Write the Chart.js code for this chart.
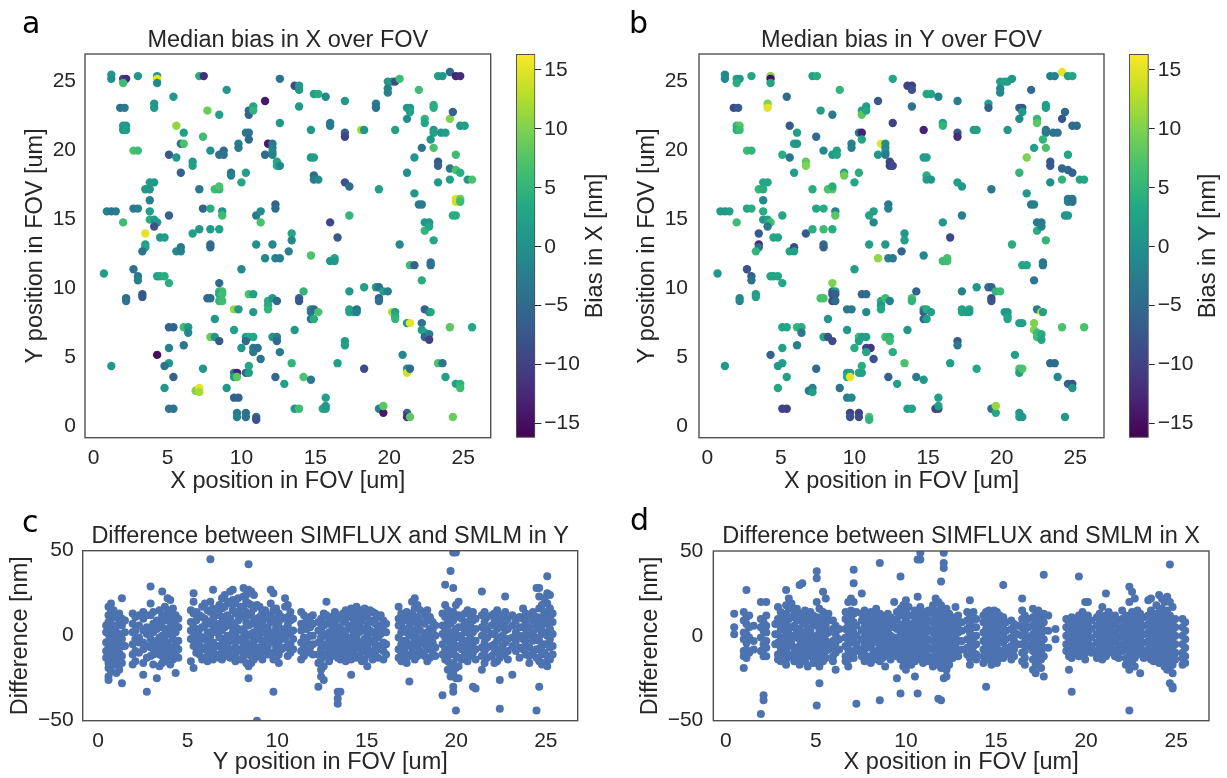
<!DOCTYPE html>
<html>
<head>
<meta charset="utf-8">
<script src="https://cdn.jsdelivr.net/npm/chart.js@4.4.1/dist/chart.umd.min.js"></script>
<style>
  body { margin: 0; background: #fff; }
  #fig { position: relative; width: 1227px; height: 778px; overflow: hidden; background: #fff; }
  #fig canvas { position: absolute; }
</style>
</head>
<body>
<div id="fig">
  <canvas id="panelA" style="left:0px;top:0px" width="500" height="500"></canvas>
  <canvas id="cbarA" style="left:500px;top:0px" width="114" height="500"></canvas>
  <canvas id="panelB" style="left:614px;top:0px" width="500" height="500"></canvas>
  <canvas id="cbarB" style="left:1114px;top:0px" width="113" height="500"></canvas>
  <canvas id="panelC" style="left:0px;top:500px" width="600" height="278"></canvas>
  <canvas id="panelD" style="left:614px;top:500px" width="613" height="278"></canvas>
</div>
<script>
// ---- data ----

// site positions in the field of view (um), same sites in panels a and b
const siteX = [
  1.2, 1.2, 2.0, 2.2, 2.0, 3.0, 4.3, 4.3, 4.3, 7.15,
  7.45, 12.6, 13.6, 13.9, 13.9, 9.0, 5.4, 11.6, 14.9, 15.2,
  15.7, 19.9, 20.2, 20.4, 20.7, 19.9, 19.9, 22.0, 23.3, 23.6,
  24.1, 24.5, 24.8, 1.8, 2.1, 4.1, 4.1, 7.7, 8.5, 10.5,
  10.5, 10.8, 10.8, 13.9, 17.0, 19.1, 19.1, 21.2, 21.4, 21.4,
  23.0, 23.0, 24.1, 24.3, 21.2, 22.4, 22.4, 2.0, 2.2, 2.0,
  2.2, 5.6, 6.1, 7.4, 16.0, 16.0, 17.0, 17.0, 18.1, 18.3,
  14.7, 12.6, 10.3, 10.5, 10.5, 20.4, 23.0, 23.0, 23.5, 23.8,
  24.8, 25.1, 22.8, 2.7, 3.0, 5.9, 6.1, 5.1, 5.6, 5.9,
  6.7, 6.7, 7.9, 8.5, 8.8, 8.8, 9.8, 9.8, 9.3, 9.3,
  10.3, 10.0, 11.6, 11.8, 12.1, 12.1, 12.1, 12.1, 12.4, 12.4,
  12.6, 14.7, 14.9, 14.9, 14.9, 15.2, 21.7, 22.2, 23.0, 24.5,
  23.3, 23.3, 24.1, 24.5, 24.8, 21.2, 25.3, 25.6, 24.1, 23.3,
  17.0, 17.3, 19.3, 21.7, 22.0, 22.2, 24.5, 24.5, 24.8, 24.8,
  24.3, 24.5, 3.8, 4.1, 3.5, 3.8, 3.8, 7.15, 8.2, 8.5,
  8.5, 7.4, 7.9, 8.7, 8.7, 0.9, 1.2, 1.5, 2.0, 2.7,
  3.0, 3.8, 3.8, 4.1, 4.3, 4.1, 3.5, 4.5, 4.8, 3.5,
  3.5, 3.3, 5.1, 5.6, 5.9, 5.9, 6.7, 7.15, 7.9, 8.5,
  7.9, 7.9, 11.0, 11.3, 11.3, 12.3, 12.3, 11.0, 12.1, 11.6,
  12.3, 12.6, 13.2, 13.4, 13.4, 16.0, 16.5, 17.3, 14.7, 16.0,
  16.3, 16.3, 20.7, 22.4, 22.7, 22.4, 22.7, 23.0, 21.4, 21.7,
  22.8, 22.8, 22.2, 0.7, 2.7, 3.0, 3.0, 4.3, 4.5, 4.8,
  5.1, 2.2, 2.2, 3.3, 3.3, 10.0, 8.5, 8.5, 8.7, 8.5,
  8.7, 8.5, 8.7, 7.7, 7.9, 10.5, 10.8, 9.5, 9.8, 10.8,
  11.8, 11.8, 11.8, 12.1, 12.4, 13.9, 13.9, 14.2, 14.7, 14.7,
  14.7, 14.9, 14.9, 15.2, 17.3, 17.3, 17.3, 17.6, 17.8, 17.8,
  18.3, 19.1, 19.3, 19.3, 19.3, 19.6, 19.9, 20.2, 20.4, 20.4,
  20.4, 21.2, 21.4, 22.2, 22.2, 22.4, 22.4, 22.7, 22.7, 22.4,
  22.7, 22.8, 24.1, 25.6, 5.1, 5.4, 6.1, 6.4, 6.4, 7.9,
  8.2, 8.5, 8.2, 9.5, 10.3, 10.5, 10.8, 10.3, 10.0, 10.8,
  11.1, 10.8, 11.3, 12.1, 12.4, 12.4, 12.6, 13.6, 17.0, 17.0,
  6.1, 5.1, 4.3, 5.1, 4.8, 5.4, 1.2, 4.8, 7.4, 6.9,
  7.15, 7.15, 9.0, 9.5, 9.7, 9.5, 9.7, 10.3, 10.5, 10.5,
  12.3, 12.9, 13.4, 14.2, 14.7, 16.5, 18.3, 20.9, 21.2, 21.2,
  21.4, 23.3, 23.6, 23.8, 24.5, 24.8, 24.8, 9.5, 9.8, 5.1,
  5.4, 9.7, 9.7, 10.3, 10.3, 11.0, 11.0, 13.6, 13.9, 15.5,
  15.7, 15.7, 15.7, 19.3, 19.6, 19.6, 21.2, 21.2, 21.4, 24.3
];
const siteY = [
  25.5, 25.2, 25.2, 25.2, 24.9, 25.4, 25.4, 25.2, 24.9, 25.4,
  25.4, 25.2, 24.7, 24.7, 24.4, 24.4, 23.9, 23.6, 24.1, 24.1,
  23.9, 25.0, 25.0, 25.0, 25.2, 24.5, 24.2, 24.4, 25.4, 25.4,
  25.7, 25.4, 25.4, 23.1, 23.1, 23.4, 23.1, 22.9, 22.6, 22.9,
  22.6, 23.2, 22.9, 23.2, 23.6, 23.4, 23.1, 23.1, 23.1, 22.8,
  23.3, 23.1, 22.3, 22.8, 22.3, 22.3, 22.0, 21.8, 21.8, 21.5,
  21.5, 21.8, 21.3, 21.0, 22.0, 21.8, 21.3, 21.0, 21.5, 21.5,
  21.5, 22.0, 21.3, 21.3, 20.8, 21.5, 21.5, 21.3, 21.3, 21.3,
  21.8, 21.8, 20.8, 20.0, 20.0, 20.5, 20.5, 19.7, 19.5, 18.4,
  19.2, 18.9, 20.0, 19.7, 20.0, 19.7, 20.5, 20.2, 18.4, 18.2,
  18.4, 17.7, 19.7, 20.5, 20.5, 20.2, 19.9, 19.7, 19.2, 18.9,
  18.9, 19.5, 19.5, 18.2, 17.9, 17.9, 19.5, 20.2, 20.2, 19.7,
  19.2, 18.9, 18.7, 18.6, 18.4, 18.4, 17.9, 17.9, 17.9, 17.7,
  17.7, 17.4, 17.2, 16.9, 16.1, 16.1, 16.5, 16.3, 16.5, 16.3,
  15.3, 15.3, 17.7, 17.7, 17.2, 17.2, 16.4, 17.2, 17.2, 17.2,
  17.4, 15.8, 15.8, 15.6, 15.3, 15.6, 15.6, 15.6, 14.8, 15.8,
  15.8, 15.6, 15.0, 15.0, 14.8, 14.5, 14.0, 13.7, 13.7, 13.2,
  13.0, 12.7, 15.3, 12.7, 13.0, 12.7, 14.0, 14.3, 14.3, 14.3,
  13.2, 13.0, 15.3, 15.6, 14.8, 16.1, 15.8, 13.2, 13.2, 12.2,
  12.2, 12.2, 12.7, 14.0, 13.5, 14.8, 13.7, 15.3, 12.4, 12.0,
  12.2, 12.0, 13.2, 14.8, 14.8, 14.2, 14.5, 13.5, 11.7, 11.7,
  11.9, 11.7, 10.6, 11.1, 11.4, 10.9, 10.6, 10.9, 10.9, 10.9,
  10.4, 9.3, 9.1, 9.6, 9.4, 11.4, 10.4, 9.8, 9.8, 9.6,
  9.6, 9.1, 9.1, 9.3, 9.3, 9.6, 9.6, 8.5, 8.5, 8.3,
  9.1, 8.8, 8.5, 9.3, 9.1, 9.3, 9.1, 9.8, 8.5, 8.3,
  7.8, 8.5, 7.8, 8.3, 9.8, 8.5, 8.3, 8.3, 8.5, 8.3,
  10.1, 10.1, 10.1, 9.3, 9.1, 9.8, 9.8, 8.3, 8.3, 8.0,
  7.8, 7.5, 7.5, 7.5, 7.0, 6.8, 6.5, 6.7, 6.3, 8.5,
  8.3, 8.3, 7.2, 7.2, 7.2, 7.2, 7.2, 7.2, 6.8, 6.5,
  6.5, 6.2, 7.8, 7.0, 6.5, 6.5, 6.5, 6.2, 5.7, 5.7,
  5.7, 5.4, 4.9, 6.5, 6.5, 6.2, 5.4, 7.0, 6.2, 5.9,
  5.9, 5.7, 5.2, 4.6, 4.4, 3.6, 4.4, 2.8, 4.2, 2.6,
  2.8, 2.5, 2.8, 3.9, 3.9, 3.6, 3.6, 3.9, 3.9, 4.4,
  3.6, 3.1, 4.6, 3.6, 3.4, 4.6, 4.2, 5.2, 4.2, 3.9,
  4.2, 4.6, 4.6, 3.6, 3.1, 3.1, 2.8, 2.1, 2.1, 1.3,
  1.3, 1.0, 0.7, 1.0, 0.7, 0.7, 0.5, 1.3, 1.3, 1.3,
  1.3, 2.1, 1.5, 1.3, 1.0, 1.5, 1.0, 0.7, 0.7, 0.7
];
// median bias per site (nm)
const biasX = [
  1, 0, -10, -12, 6, 1, 1, 15, -1, 4,
  -12, -4, -9, 1, 1, 1, 1, -14, 2, 4,
  -1, 1, 2, -9, 6, -2, -2, 6, 2, 1,
  -5, -13, -12, -4, -3, 1, 1, 9, 2, -5,
  -6, 3, 5, 1, 1, -3, -4, 1, 1, 2,
  4, 4, 10, -6, 0, 5, 3, 1, 1, 1,
  2, 11, 2, 6, -3, -3, -6, -10, 12, 1,
  1, 1, -3, -4, -5, 2, 1, 2, 1, 2,
  1, 2, 1, 7, 6, -4, 7, -7, 1, -6,
  1, 2, 0, -4, -5, -4, -2, -3, -4, -2,
  2, 3, -5, -14, -3, -2, -1, -2, 3, 4,
  -1, 1, 2, -5, -3, -1, 1, -4, 7, 6,
  -7, -6, -3, 7, 4, 0, 1, 7, 2, 1,
  -8, -5, 2, 1, -3, -3, 15, 14, 9, 6,
  4, 4, 2, 1, 1, 1, -2, -3, 6, 5,
  7, -6, 4, 1, 6, -2, -3, -3, 6, -3,
  -2, 2, 4, 1, 1, -8, 15, 1, 2, 2,
  3, -4, -6, -1, -3, -2, 2, 1, 1, 2,
  -5, -5, -3, 0, 7, -6, -5, 0, -1, -1,
  -2, -2, -2, 3, -1, -9, -7, 5, 7, 1,
  3, 1, -1, 1, 1, 5, 3, 3, 6, -6,
  -4, -4, 4, 2, -4, -3, -2, 2, 3, 4,
  4, -5, -4, -7, -7, -1, -5, 5, 6, 4,
  6, 5, 6, -5, -5, 7, 2, 11, 1, 1,
  4, 4, 5, 1, -5, -6, -7, 5, 1, -3,
  -3, -5, 4, 7, 1, 3, 3, 2, -4, -2,
  2, 1, -4, -6, -4, 2, -2, 12, 2, 4,
  5, 1, 15, -4, 1, 3, -6, -2, -10, -6,
  -4, 3, 8, 3, -6, -6, 6, 1, -1, 9,
  1, -7, 1, 2, 1, 4, 3, -5, 1, -3,
  -4, -3, -4, 1, -2, -5, -3, 1, 2, 2,
  -3, -2, -15, 1, -4, -6, 1, 1, 1, 10,
  15, 12, 1, -2, -13, 1, 8, -6, 2, 3,
  -5, 2, 5, 7, -3, 2, -9, -1, 1, 14,
  -5, 7, -3, 2, 2, 5, 6, -6, -6, -3,
  -4, -3, -2, -4, -4, -5, -8, 1, 6, 3,
  2, 2, 1, -2, -14, 8, -6, -12, 8, 9
];
const biasY = [
  -1, -1, 2, 1, 4, 3, 10, -15, 3, 2,
  4, 3, -10, -10, -8, 5, -5, -7, 3, 3,
  -2, 2, 2, 2, 1, -1, -1, -5, -2, -2,
  15, 2, 3, -9, -7, 10, 15, 2, -3, 2,
  8, 2, 3, -4, -2, 2, -6, -6, -7, 1,
  2, 2, -8, -5, -1, 5, 8, 5, 8, 4,
  6, -7, 2, -5, 2, 5, -7, -12, 2, 2,
  -13, -10, -3, -13, 3, 1, -3, -3, -4, -4,
  -5, -5, 5, 6, 5, 1, 1, 4, -4, 2,
  8, 10, -1, 1, 2, 3, -2, -2, 2, 9,
  4, 3, 1, 15, 0, -1, 0, -3, -9, -10,
  -9, 2, 2, 4, 2, 1, 10, 2, 7, 3,
  -7, -7, -5, -5, -6, 5, 3, 3, 5, 0,
  2, 1, -3, 1, -3, -2, -3, -2, -3, -4,
  1, 1, 3, 3, 5, 4, -1, 4, 7, 8,
  4, 3, 4, -2, 8, 1, 1, 2, 6, 3,
  4, 4, 1, 2, 6, -3, -7, 3, 3, -13,
  -4, 5, 3, 2, -9, 2, -7, 4, 6, 4,
  -5, -6, 3, 2, -1, -3, -2, 2, 1, 11,
  -2, -3, -6, 1, 2, 1, -9, -2, -1, 6,
  7, 6, 4, -3, -3, 4, -2, 5, 3, 3,
  -3, -3, -3, 1, -8, -6, -4, 3, 3, 3,
  3, -1, -1, 1, 2, 2, 10, -5, 1, -8,
  -6, -9, -5, 7, 7, -5, -5, -3, -3, -1,
  4, 1, 3, 6, -2, 7, 5, -6, 2, -6,
  -6, 4, 2, 2, -2, 2, 3, 2, 3, 2,
  1, -4, -6, -9, -8, 5, 6, 1, 1, 2,
  3, 2, 2, 10, 10, 6, 6, 4, 3, -2,
  15, 2, 7, 7, 3, 3, 5, 4, -3, 3,
  -8, -9, 1, 1, 6, 2, 2, 2, 4, -10,
  -11, 3, -8, 6, 5, 6, 4, 1, -7, -3,
  -2, 2, -6, 2, 1, 2, 1, 3, -5, -3,
  -2, 2, -4, 2, 2, 3, 15, 3, 2, 4,
  -6, 2, 7, -3, 1, 2, 3, 2, 7, 2,
  7, -5, -5, -1, -6, -8, 1, -2, -1, -10,
  -10, -10, -8, -10, -9, 7, 5, 2, 3, -10,
  -9, 2, 2, -4, 3, 11, 1, 2, 1, 1
];

// per-localization difference (nm), grouped in columns by position (um)
const diffYCols = [
  [0.45, [2, -4, -9, -13, 6]],
  [0.58, [12, 8, 1, -3, -7, -11, -16, -19, -24, 17, -26]],
  [0.72, [19, 14, 7, 4, -1, -5, -9, -12, -18, -21]],
  [0.86, [15, 11, 3, 0, -6, -10, -15, -17]],
  [1.02, [11, 6, 2, -4, -8, -13, -17, -22]],
  [1.18, [13, 9, 1, -3, -10, -14, -20]],
  [1.33, [22, 10, 6, -2, -6, -12, -16, -28]],
  [1.5, [9, 2, -6]],
  [1.93, [13, 7, 2, -5, -11, -17]],
  [2.08, [11, 3, -2, -9, -15]],
  [2.28, [12, 6, -1, -4, -10]],
  [2.52, [14, 10, 3, -4, -8, -16, -23]],
  [2.72, [12, 5, 1, -6, -13, -33]],
  [2.93, [29, 19, 12, 3, -2, -7, -12]],
  [3.08, [14, 7, 2, -4, -11, -17]],
  [3.28, [9, 4, -3, -8, -25]],
  [3.43, [15, 9, 5, -1, -7, -11, -18]],
  [3.58, [26, 12, 8, 0, -4, -12, -16]],
  [3.73, [17, 11, 4, -3, -8, -13]],
  [3.88, [22, 15, 9, 1, -4, -9, -15]],
  [4.03, [21, 12, 5, 1, -7, -12, -17]],
  [4.18, [16, 8, 3, -2, -9, -14]],
  [4.33, [12, 6, 2, -5, -10, -22]],
  [4.48, [10, 5, -3, -8, -13]],
  [5.18, [15, 8, 3, -2, -15]],
  [5.33, [25, 20, 13, 5, 1, -6, -19]],
  [5.48, [14, 9, 2, -3, -10]],
  [5.66, [12, 4, 0, -6, -11]],
  [5.81, [17, 11, 5, -2, -7, -14]],
  [5.96, [19, 10, 6, -1, -8, -13]],
  [6.11, [15, 8, 2, -4, -9, -15]],
  [6.27, [45, 20, 14, 7, 0, -5, -12]],
  [6.42, [27, 16, 10, 3, -4, -9, -14]],
  [6.6, [14, 7, 2, -6, -11]],
  [6.77, [18, 12, 4, -1, -6, -13]],
  [6.92, [22, 16, 8, 3, -2, -9, -14]],
  [7.07, [24, 17, 11, 5, -3, -7, -12]],
  [7.22, [20, 12, 7, 0, -5, -10]],
  [7.37, [26, 19, 10, 6, -1, -8, -13]],
  [7.52, [27, 21, 15, 7, 2, -3, -10]],
  [7.67, [19, 13, 5, 0, -7, -12, -15]],
  [7.82, [22, 14, 9, 4, -3, -8]],
  [7.97, [17, 11, 3, -2, -9, -14]],
  [8.12, [28, 23, 17, 12, 4, -1, -6, -12]],
  [8.27, [24, 20, 14, 8, 1, -4, -10, -16]],
  [8.4, [42, 27, 19, 12, 6, 0, -6, -11, -18, -25]],
  [8.55, [26, 18, 13, 7, 1, -7, -12, -16]],
  [8.7, [24, 16, 9, 2, -3, -8, -14]],
  [8.87, [18, 10, 6, -2, -7, -12, -50]],
  [9.02, [17, 11, 3, -1, -9, -12]],
  [9.17, [14, 7, 2, -5, -10, -14]],
  [9.32, [15, 10, 4, -3, -8]],
  [9.47, [12, 5, 0, -7, -11]],
  [9.64, [27, 19, 12, 8, 1, -4, -11]],
  [9.79, [25, 15, 10, 2, -3, -10, -14, -33]],
  [9.94, [16, 9, 5, -2, -7, -13]],
  [10.09, [13, 8, 1, -4, -11, -16]],
  [10.24, [11, 4, -1, -8]],
  [10.44, [22, 17, 10, 3, -2, -7]],
  [10.59, [18, 11, 6, 1, -6, -12]],
  [10.74, [14, 9, 2, -5, -10]],
  [10.89, [10, 3, -2, -8]],
  [11.34, [14, 7, 3, -4, -9, -14]],
  [11.49, [12, 6, -1, -6, -12]],
  [11.64, [9, 4, -3, -10]],
  [11.84, [11, 5, 0, -7]],
  [11.99, [12, 7, 0, -5, -11]],
  [12.3, [8, 3, -4, -11, -16, -30]],
  [12.45, [10, 4, -1, -8, -14, -20, -24]],
  [12.6, [13, 6, 1, -5, -12, -18, -26]],
  [12.75, [20, 12, 7, 0, -6, -11]],
  [12.9, [9, 2, -3, -9, -15]],
  [13.05, [11, 6, -1, -7, -12]],
  [13.22, [14, 8, 3, -4, -10]],
  [13.38, [12, 5, 0, -6, -13, -33, -37, -40]],
  [13.53, [10, 4, -2, -9, -14, -33]],
  [13.68, [13, 8, 1, -5, -11]],
  [13.83, [15, 10, 3, -2, -9, -15]],
  [13.98, [12, 6, -1, -6, -12]],
  [14.13, [16, 11, 4, -3, -8, -14, -23]],
  [14.28, [14, 8, 1, -4, -10]],
  [14.43, [17, 10, 5, -1, -7, -13]],
  [14.58, [13, 6, 2, -5, -12]],
  [14.73, [15, 9, 3, -4, -9, -15]],
  [14.88, [16, 11, 4, -2, -7, -14]],
  [15.03, [12, 6, 0, -6, -11, -18]],
  [15.18, [15, 8, 3, -3, -10]],
  [15.33, [14, 9, 2, -4, -9, -14]],
  [15.48, [13, 7, 0, -5, -11]],
  [15.63, [11, 4, -1, -8, -13]],
  [15.78, [12, 6, 1, -6]],
  [15.93, [9, 3, -4, -9, -14]],
  [16.08, [7, 2, -5, -11]],
  [16.78, [17, 10, 6, -1, -8, -13]],
  [16.93, [13, 7, 2, -5, -10, -15]],
  [17.08, [10, 4, -3, -8, -14]],
  [17.23, [14, 9, 2, -4, -11, -16]],
  [17.38, [12, 5, 0, -6, -12, -27]],
  [17.53, [20, 13, 8, 1, -5, -10]],
  [17.68, [22, 16, 10, 3, -2, -9, -14]],
  [17.83, [18, 11, 6, -1, -6, -12]],
  [17.98, [15, 8, 3, -3, -9]],
  [18.23, [12, 7, 0, -5, -12]],
  [18.38, [15, 9, 2, -3, -8, -15]],
  [18.53, [11, 4, -1, -7, -13]],
  [18.68, [8, 3, -4, -10]],
  [18.83, [6, 0, -7, -12]],
  [19.23, [13, 6, 1, -5, -11, -35]],
  [19.38, [30, 18, 11, 4, -1, -8, -14]],
  [19.53, [15, 8, 3, -3, -10, -15, -20]],
  [19.68, [38, 12, 7, 0, -6, -11, -18, -24]],
  [19.83, [49, 28, 14, 9, 2, -4, -9, -16, -22, -30, -33]],
  [19.98, [49, 18, 11, 4, -1, -7, -12, -19, -25, -44]],
  [20.13, [20, 12, 5, 0, -6, -13, -18, -25]],
  [20.3, [10, 5, -2, -8, -14]],
  [20.48, [13, 7, 2, -5, -11]],
  [20.63, [15, 8, 3, -3, -9, -15]],
  [20.78, [12, 6, -1, -6, -12]],
  [20.93, [14, 9, 2, -4, -10, -30]],
  [21.08, [10, 4, -3, -8, -14, -31]],
  [21.43, [26, 12, 5, 0, -7, -12, -20]],
  [21.58, [14, 8, 3, -4, -9, -16]],
  [21.73, [11, 4, -1, -7, -13]],
  [21.98, [12, 6, 1, -6, -12]],
  [22.13, [13, 8, 1, -5, -10, -16]],
  [22.28, [15, 9, 4, -3, -9, -15]],
  [22.43, [11, 5, -1, -8, -13, -26, -43]],
  [22.58, [12, 7, 0, -6, -11]],
  [22.73, [23, 14, 8, 3, -4, -10]],
  [22.88, [10, 4, -2, -9, -14]],
  [23.13, [12, 6, -1, -6, -23]],
  [23.33, [9, 2, -3, -9]],
  [23.53, [11, 5, 0, -7, -13]],
  [23.73, [16, 10, 5, -2, -8]],
  [23.88, [13, 8, 1, -4, -11]],
  [24.08, [12, 5, 0, -7, -12, -16]],
  [24.28, [14, 9, 2, -3, -10]],
  [24.48, [28, 11, 6, -1, -8, -13, -44]],
  [24.63, [28, 23, 16, 9, 4, -3, -8, -15, -30]],
  [24.78, [18, 11, 6, 1, -6, -11, -17]],
  [24.93, [22, 14, 9, 2, -5, -10, -16]],
  [25.08, [35, 25, 19, 12, 7, 0, -5, -12, -18]],
  [25.23, [24, 16, 11, 4, -2, -7, -14]],
  [25.38, [13, 8, 1, -6, -11]]
];
const diffXCols = [
  [0.47, [13, 5, 1]],
  [1.0, [14, 9, 2, -2, -9, -12, -19]],
  [1.15, [27, 11, 7, 1, -4, -8, -13]],
  [1.3, [12, 5, -1, -10]],
  [1.55, [6, -3, -8]],
  [1.95, [20, 10, 5, -1, -9, -46]],
  [2.1, [8, 3, -5, -8, -12, -35, -38]],
  [2.25, [20, 12, 6, 2, -3, -7, -12]],
  [2.75, [7, 1, -5]],
  [2.9, [17, 10, 7, 1, -4, -11, -14]],
  [3.05, [14, 8, 4, -2, -7, -10, -15]],
  [3.2, [12, 6, -1, -5, -12]],
  [3.35, [27, 18, 13, 8, 2, -2, -9, -14, -17]],
  [3.5, [22, 16, 10, 4, 1, -6, -11]],
  [3.65, [19, 11, 5, -2, -5, -12]],
  [3.8, [15, 12, 6, 0, -7, -10, -15]],
  [3.95, [16, 9, 3, -1, -8, -14]],
  [4.1, [30, 13, 10, 4, -2, -6, -12, -17]],
  [4.25, [31, 12, 8, 2, -3, -9, -13]],
  [4.4, [15, 7, 1, -4, -7, -15]],
  [4.55, [11, 4, 0, -5, -11, -18]],
  [4.7, [14, 9, 3, -2, -8, -12]],
  [4.85, [12, 7, -1, -6, -10, -16]],
  [5.05, [38, 34, 20, 11, 6, 0, -4, -10, -14, -41]],
  [5.2, [16, 10, 3, -2, -7, -12, -18, -28]],
  [5.4, [26, 14, 8, 5, -1, -6, -11, -15]],
  [5.55, [22, 12, 6, 1, -3, -9, -13]],
  [5.7, [13, 9, 2, -4, -8]],
  [5.95, [9, 4, -3, -6, -12, -15]],
  [6.1, [6, 1, -4, -10, -20]],
  [6.3, [4, -2, -8]],
  [6.65, [14, 10, 4, -1, -6, -12, -15]],
  [6.8, [20, 13, 7, 3, -3, -8, -14, -18]],
  [6.95, [22, 15, 11, 5, 0, -4, -10]],
  [7.1, [39, 31, 20, 13, 8, 2, -3, -9, -13]],
  [7.25, [14, 6, 0, -5, -9, -40]],
  [7.55, [25, 13, 9, 3, -2, -8, -12]],
  [7.7, [15, 10, 5, -1, -5, -11, -15]],
  [7.85, [11, 6, 1, -7, -13]],
  [8.05, [14, 10, 3, -3, -6, -12, -16]],
  [8.2, [12, 7, 0, -4, -10, -14]],
  [8.35, [16, 11, 5, 2, -3, -9, -13]],
  [8.55, [43, 13, 8, 3, -2, -7, -11, -15, -38]],
  [8.7, [12, 5, -1, -4, -10, -13]],
  [8.85, [10, 6, 1, -6, -12, -18]],
  [9.0, [13, 8, 3, -2, -8, -11]],
  [9.15, [11, 6, 0, -5, -10, -14]],
  [9.35, [20, 9, 5, -1, -6, -11]],
  [9.5, [14, 10, 4, -3, -7, -12, -25]],
  [9.7, [35, 16, 12, 6, 1, -5, -9, -14, -34]],
  [9.85, [18, 13, 7, 2, -3, -8, -13, -18]],
  [10.0, [21, 14, 9, 4, -1, -6, -11, -16, -20]],
  [10.15, [17, 12, 6, 0, -4, -10, -14]],
  [10.3, [12, 7, 3, -3, -8, -12, -17]],
  [10.5, [15, 11, 5, 0, -6, -11, -15, -24]],
  [10.65, [45, 23, 14, 8, 3, -2, -7, -13, -34]],
  [10.8, [49, 45, 17, 12, 7, 1, -4, -9, -14]],
  [10.95, [14, 10, 4, -1, -6, -12, -16]],
  [11.1, [12, 6, 2, -4, -9, -13]],
  [11.25, [15, 9, 4, -2, -7, -12, -15]],
  [11.5, [18, 13, 8, 2, -3, -8, -13, -18]],
  [11.65, [22, 15, 10, 5, -1, -5, -10, -15]],
  [11.8, [20, 14, 9, 3, -2, -7, -12, -17, -37]],
  [11.95, [32, 18, 12, 7, 1, -4, -9, -14, -19, -38]],
  [12.1, [49, 43, 40, 14, 10, 4, -1, -6, -11, -16, -25]],
  [12.25, [16, 11, 6, 0, -5, -10, -15, -20, -24]],
  [12.4, [13, 8, 3, -3, -8, -13, -17]],
  [12.6, [11, 6, 1, -4, -10, -13]],
  [12.75, [17, 10, 5, -1, -6, -10]],
  [12.9, [12, 7, 2, -3, -9, -12]],
  [13.1, [8, 3, -3, -8]],
  [13.4, [14, 9, 4, -2, -7, -11]],
  [13.55, [21, 12, 7, 2, -3, -9, -13, -17]],
  [13.75, [14, 10, 5, -1, -6, -10]],
  [13.9, [10, 5, 0, -5, -11, -14]],
  [14.3, [12, 8, 2, -3, -8, -12, -16]],
  [14.45, [14, 9, 4, -1, -6, -11, -30]],
  [14.6, [15, 11, 6, 1, -4, -9, -14]],
  [14.75, [13, 8, 3, -2, -7, -12, -17]],
  [14.9, [15, 10, 5, 0, -5, -10, -15]],
  [15.05, [14, 9, 4, -2, -7, -11, -16]],
  [15.2, [12, 7, 2, -3, -9, -13]],
  [15.4, [30, 11, 6, 1, -4, -9, -13]],
  [15.55, [8, 3, -2, -7, -11]],
  [15.85, [9, 4, -1, -6, -10, -14]],
  [16.0, [7, 2, -3, -8, -12]],
  [16.2, [6, 1, -5]],
  [16.45, [22, 15, 10, 5, 0, -5, -10, -15]],
  [16.6, [12, 7, 2, -4, -9, -13, -17]],
  [16.8, [10, 5, -1, -6]],
  [17.05, [16, 11, 6, 1, -4, -9, -14, -20]],
  [17.2, [12, 8, 3, -2, -7, -12, -17, -22]],
  [17.35, [15, 10, 5, -1, -6, -11, -15]],
  [17.5, [11, 6, 1, -4, -9, -14, -19]],
  [17.65, [36, 13, 8, 3, -2, -7, -12, -24]],
  [17.9, [12, 3, -7]],
  [18.3, [4, -2]],
  [18.9, [10, 5, 0, -5, -9]],
  [19.05, [8, 3, -2, -7, -12, -20]],
  [19.2, [11, 6, 1, -4, -9, -13, -33]],
  [19.4, [9, 4, -1, -6, -10]],
  [19.6, [35, 12, 7, 2, -3, -8, -12]],
  [19.8, [14, 9, 4, -1, -6, -10]],
  [19.95, [20, 10, 5, 0, -5, -10, -14]],
  [20.1, [20, 12, 7, 2, -3, -7]],
  [20.3, [9, 4, -1, -6, -10]],
  [20.6, [11, 6, 1, -4, -9, -13]],
  [20.75, [13, 8, 3, -2, -7, -11]],
  [20.9, [17, 11, 6, 1, -4, -9, -14]],
  [21.1, [25, 12, 7, 2, -3, -8, -12]],
  [21.25, [14, 9, 4, -1, -6, -10]],
  [21.4, [11, 6, 1, -4, -8]],
  [21.6, [12, 7, 2, -3, -8, -12]],
  [21.8, [9, 4, -1, -6, -10, -13]],
  [22.0, [15, 10, 5, 0, -5, -9]],
  [22.2, [12, 7, 2, -3, -8, -13, -17]],
  [22.4, [29, 20, 10, 5, 0, -5, -10, -15, -20, -44]],
  [22.55, [26, 14, 9, 4, -1, -6, -11, -16]],
  [22.7, [22, 12, 7, 2, -3, -8, -13, -18]],
  [22.85, [15, 10, 5, 0, -5, -9]],
  [23.0, [13, 8, 3, -2, -7, -11, -22]],
  [23.2, [11, 6, 1, -4, -9, -13]],
  [23.45, [21, 12, 7, 2, -3, -8, -12]],
  [23.6, [22, 15, 10, 5, 0, -5, -10, -14]],
  [23.75, [13, 8, 3, -2, -7, -11, -15]],
  [23.9, [18, 10, 5, 0, -5, -10, -14]],
  [24.05, [24, 14, 9, 4, -1, -6, -11, -16]],
  [24.2, [22, 16, 11, 6, 1, -4, -9, -14]],
  [24.35, [20, 12, 7, 2, -3, -8, -13, -18]],
  [24.5, [23, 15, 10, 5, 0, -5, -10, -15, -20]],
  [24.65, [42, 20, 12, 7, 2, -3, -8, -13, -19, -28]],
  [24.8, [17, 8, 3, -2, -7, -12, -17, -22, -30, -31]],
  [24.95, [10, 5, 0, -5, -10, -14]],
  [25.35, [10, 5, 0, -5, -10, -13, -17]],
  [25.5, [8, 3, -2, -7, -12, -16]]
];

// tick labels
const posTicks = [0, 5, 10, 15, 20, 25];
const biasTicks = [-15, -10, -5, 0, 5, 10, 15];
const diffTicks = [-50, 0, 50];

// colour range of the bias colour bars
const biasMin = -16.2;
const biasMax = 16.35;

// ---- drawing ----
const FONT = "'Liberation Sans', Arial, sans-serif";
const INK = '#262626';
const EDGE = '#505050';
const DOT = '#4c72b0';
const viridis = ['#440154', '#482475', '#414487', '#355f8d', '#2a788e', '#21918c',
  '#22a884', '#44bf70', '#7ad151', '#bddf26', '#fde725'];

Chart.defaults.font.family = FONT;
Chart.defaults.color = INK;

function hexRgb(h) {
  return [parseInt(h.slice(1, 3), 16), parseInt(h.slice(3, 5), 16), parseInt(h.slice(5, 7), 16)];
}
function viridisAt(t) {
  t = Math.min(1, Math.max(0, t));
  var p = t * 10;
  var i = Math.min(9, Math.floor(p));
  var f = p - i;
  var a = hexRgb(viridis[i]), b = hexRgb(viridis[i + 1]);
  return 'rgb(' + a.map(function (v, k) { return Math.round(v + (b[k] - v) * f); }).join(',') + ')';
}
function biasColor(v) { return viridisAt((v - biasMin) / (biasMax - biasMin)); }
function fmt(v) { return v < 0 ? '\u2212' + Math.abs(v) : String(v); }
function fixTicks(values) {
  return function (scale) { scale.ticks = values.map(function (v) { return { value: v }; }); };
}
function columnsToPoints(cols) {
  var pts = [];
  cols.forEach(function (col) {
    col[1].forEach(function (v) { pts.push({ x: col[0], y: v }); });
  });
  return pts;
}

// box round the plot area, drawn on top like matplotlib spines
const framePlugin = {
  id: 'frame',
  afterDatasetsDraw: function (chart) {
    var a = chart.chartArea, ctx = chart.ctx;
    ctx.save();
    ctx.strokeStyle = EDGE;
    ctx.lineWidth = 1.4;
    ctx.strokeRect(a.left, a.top, a.right - a.left, a.bottom - a.top);
    ctx.restore();
  }
};
// the a/b/c/d letters
const letterPlugin = {
  id: 'panelLetter',
  afterDraw: function (chart, args, opts) {
    var ctx = chart.ctx;
    ctx.save();
    ctx.font = "30px 'DejaVu Sans', sans-serif";
    ctx.fillStyle = '#000';
    ctx.textBaseline = 'alphabetic';
    ctx.fillText(opts.text, opts.x, opts.y);
    ctx.restore();
  }
};
// colour bar label, reads bottom to top
const cbarLabelPlugin = {
  id: 'cbarLabel',
  afterDraw: function (chart, args, opts) {
    var a = chart.chartArea, ctx = chart.ctx;
    ctx.save();
    ctx.translate(opts.x, (a.top + a.bottom) / 2);
    ctx.rotate(-Math.PI / 2);
    ctx.font = '23.5px ' + FONT;
    ctx.fillStyle = INK;
    ctx.textAlign = 'center';
    ctx.textBaseline = 'middle';
    ctx.fillText(opts.text, 0, 0);
    ctx.restore();
  }
};

function scatterPanel(id, o) {
  return new Chart(document.getElementById(id), {
    type: 'scatter',
    data: {
      datasets: [{
        data: o.points,
        pointRadius: o.radius,
        pointHoverRadius: o.radius,
        pointBorderWidth: 0,
        pointBackgroundColor: o.colors,
        clip: 0
      }]
    },
    options: {
      responsive: false,
      animation: false,
      events: [],
      layout: { padding: { left: 0, top: 0, right: o.padRight, bottom: 0 } },
      plugins: {
        legend: { display: false },
        tooltip: { enabled: false },
        title: {
          display: true,
          text: o.title,
          fullSize: false,
          color: INK,
          font: { family: FONT, size: 23.5, weight: 'normal', lineHeight: 1 },
          padding: { top: o.titleTop, bottom: o.titleBottom }
        },
        panelLetter: o.letter
      },
      scales: {
        x: {
          type: 'linear',
          min: o.xMin,
          max: o.xMax,
          afterBuildTicks: fixTicks(o.xTicks),
          afterFit: function (s) { s.height = o.xAxisH; },
          grid: { display: false, drawTicks: false },
          border: { display: false },
          ticks: { padding: 8, color: INK, font: { size: 21 }, callback: fmt },
          title: {
            display: true, text: o.xTitle, color: INK,
            font: { size: 23.5, lineHeight: 1.2 },
            padding: { top: 0, bottom: o.xTitlePad }
          }
        },
        y: {
          type: 'linear',
          min: o.yMin,
          max: o.yMax,
          afterBuildTicks: fixTicks(o.yTicks),
          afterFit: function (s) { s.width = o.yAxisW; },
          grid: { display: false, drawTicks: false },
          border: { display: false },
          ticks: { padding: o.yTickPad, color: INK, font: { size: 21 }, callback: fmt },
          title: {
            display: true, text: o.yTitle, color: INK,
            font: { size: 23.5, lineHeight: 1.2 },
            padding: { top: o.yTitlePad, bottom: 0 }
          }
        }
      }
    },
    plugins: [framePlugin, letterPlugin]
  });
}

function cbarGradient(chart) {
  var y = chart.scales.y;
  if (!chart.chartArea || !y) return viridis[5];
  var g = chart.ctx.createLinearGradient(0, y.getPixelForValue(biasMin), 0, y.getPixelForValue(biasMax));
  viridis.forEach(function (c, i) { g.addColorStop(i / 10, c); });
  return g;
}

function colorBar(id, o) {
  return new Chart(document.getElementById(id), {
    type: 'bar',
    data: {
      labels: [''],
      datasets: [{
        data: [[biasMin, biasMax]],
        backgroundColor: function (ctx) { return cbarGradient(ctx.chart); },
        borderColor: EDGE,
        borderWidth: 1.3,
        borderSkipped: false,
        barPercentage: 1,
        categoryPercentage: 1
      }]
    },
    options: {
      responsive: false,
      animation: false,
      events: [],
      layout: { padding: { left: o.left, top: 54, right: 0, bottom: 62.3 } },
      plugins: {
        legend: { display: false },
        tooltip: { enabled: false },
        cbarLabel: { text: o.label, x: o.labelX }
      },
      scales: {
        x: { display: false },
        y: {
          position: 'right',
          min: biasMin,
          max: biasMax,
          afterBuildTicks: fixTicks(biasTicks),
          afterFit: function (s) { s.width = o.axisW; },
          grid: { drawOnChartArea: false, drawTicks: true, tickLength: 6, color: INK, lineWidth: 1 },
          border: { display: false },
          ticks: { padding: 3, color: INK, font: { size: 21 }, callback: fmt }
        }
      }
    },
    plugins: [cbarLabelPlugin]
  });
}

var sitePoints = siteX.map(function (x, i) { return { x: x, y: siteY[i] }; });

// a
scatterPanel('panelA', {
  points: sitePoints,
  colors: biasX.map(biasColor),
  radius: 4.2,
  title: 'Median bias in X over FOV',
  titleTop: 28.75, titleBottom: 1.75,
  padRight: 9.3,
  xMin: -0.58, xMax: 26.86, xTicks: posTicks, xAxisH: 62.3,
  xTitle: 'X position in FOV [um]', xTitlePad: 4.4,
  yMin: -0.8, yMax: 27.0, yTicks: posTicks, yAxisW: 85, yTickPad: 9,
  yTitle: 'Y position in FOV [um]', yTitlePad: 21,
  letter: { text: 'a', x: 22, y: 33 }
});
colorBar('cbarA', { left: 16, axisW: 78.7, label: 'Bias in X [nm]', labelX: 95.5 });

// b
scatterPanel('panelB', {
  points: sitePoints,
  colors: biasY.map(biasColor),
  radius: 4.2,
  title: 'Median bias in Y over FOV',
  titleTop: 28.75, titleBottom: 1.75,
  padRight: 10,
  xMin: -0.56, xMax: 26.95, xTicks: posTicks, xAxisH: 62.3,
  xTitle: 'X position in FOV [um]', xTitlePad: 4.4,
  yMin: -0.8, yMax: 27.0, yTicks: posTicks, yAxisW: 85, yTickPad: 11,
  yTitle: 'Y position in FOV [um]', yTitlePad: 19.4,
  letter: { text: 'b', x: 15, y: 33 }
});
colorBar('cbarB', { left: 15, axisW: 78.3, label: 'Bias in Y [nm]', labelX: 94.5 });

// c
scatterPanel('panelC', {
  points: columnsToPoints(diffYCols),
  colors: DOT,
  radius: 4,
  title: 'Difference between SIMFLUX and SMLM in Y',
  titleTop: 24.75, titleBottom: 2.45,
  padRight: 22.3,
  xMin: -0.86, xMax: 26.78, xTicks: posTicks, xAxisH: 57.3,
  xTitle: 'Y position in FOV [um]', xTitlePad: 1.4,
  yMin: -50, yMax: 50, yTicks: diffTicks, yAxisW: 82.7, yTickPad: 9,
  yTitle: 'Difference [nm]', yTitlePad: 6.9,
  letter: { text: 'c', x: 22, y: 32 }
});

// d
scatterPanel('panelD', {
  points: columnsToPoints(diffXCols),
  colors: DOT,
  radius: 4,
  title: 'Difference between SIMFLUX and SMLM in X',
  titleTop: 24.75, titleBottom: 2.75,
  padRight: 18,
  xMin: -0.69, xMax: 26.82, xTicks: posTicks, xAxisH: 57.3,
  xTitle: 'X position in FOV [um]', xTitlePad: 1.4,
  yMin: -50, yMax: 50, yTicks: diffTicks, yAxisW: 99.3, yTickPad: 10,
  yTitle: 'Difference [nm]', yTitlePad: 22.9,
  letter: { text: 'd', x: 16, y: 30 }
});
</script>
</body>
</html>
